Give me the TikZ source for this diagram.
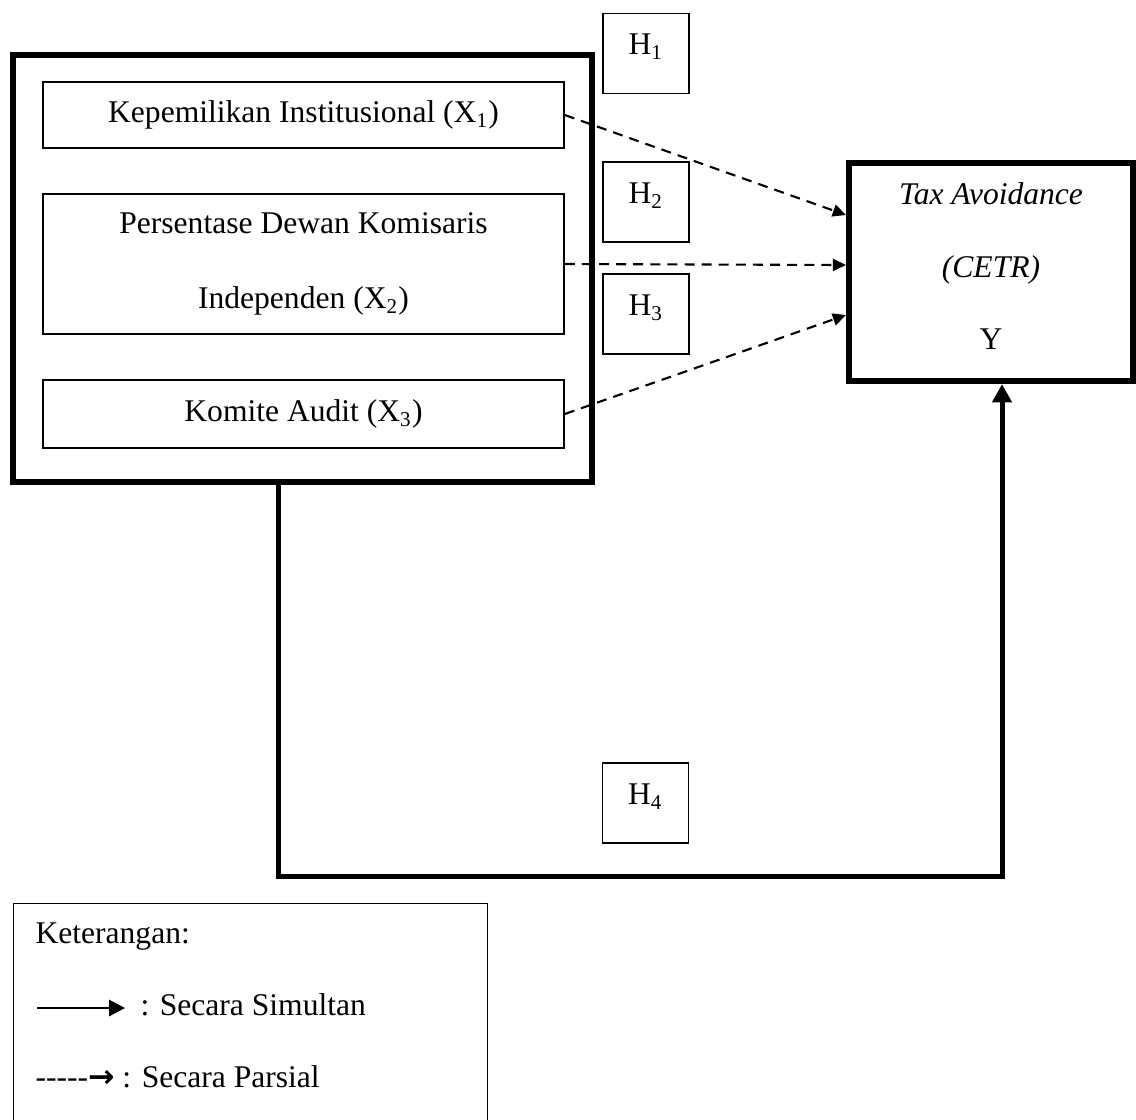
\documentclass[tikz,border=0pt]{standalone}
\usepackage{fontspec}
\setmainfont{Liberation Serif}
\newfontfamily\arrowfont{DejaVu Sans}
\usetikzlibrary{arrows.meta,positioning}
\newcommand{\pxu}{0.38pt}

\begin{document}
\begin{tikzpicture}[
    x=0.38pt, y=-0.38pt,
    every node/.style={font=\fontsize{12}{14.4}\selectfont, inner sep=0pt},
    group/.style={rectangle, draw, line width=2.3pt, minimum width=579*\pxu, minimum height=427*\pxu},
    varbox/.style={rectangle, draw, line width=0.6pt, minimum width=521*\pxu, align=center},
    hypbox/.style={rectangle, draw, line width=0.6pt, minimum width=86*\pxu, minimum height=80*\pxu, text height=9pt, text depth=8pt},
    depbox/.style={rectangle, draw, line width=2.3pt, minimum width=284*\pxu, minimum height=218*\pxu, align=center, text depth=4.5pt, font=\fontsize{12}{27.4}\selectfont},
    legbox/.style={rectangle, draw, line width=0.5pt, minimum width=474*\pxu, minimum height=240*\pxu},
    partial/.style={-{Triangle[length=5pt, width=4.6pt]}, line width=0.8pt, dash pattern=on 3.8pt off 2.7pt},
    simult/.style={-{Triangle[length=7pt, width=7.2pt]}, line width=1.9pt},
    legarrow/.style={-{Triangle[length=6pt, width=6.2pt]}, line width=0.5pt}
  ]
    \clip (0,0) rectangle (1136,1119);

    % independent variables
    \node[group] (grp) at (302.5,268.5) {};
    \node[varbox, minimum height=66*\pxu] (kep) at (303.5,115) {Kepemilikan Institusional (X\textsubscript{1})};
    \node[varbox, minimum height=140*\pxu, font=\fontsize{12}{28.5}\selectfont] (dkw) at (303.5,264) {Persentase Dewan Komisaris\\Independen (X\textsubscript{2})};
    \node[varbox, minimum height=68*\pxu] (kom) at (303.5,414) {Komite Audit (X\textsubscript{3})};

    % dependent variable
    \node[depbox] (tax) at (991,272) {\textit{Tax Avoidance}\\\textit{(CETR)}\\Y};

    % hypotheses
    \node[hypbox] (h1) at (646,53.5) {H\textsubscript{1}};
    \node[hypbox] (h2) at (646,202) {H\textsubscript{2}};
    \node[hypbox] (h3) at (646,314) {H\textsubscript{3}};
    \node[hypbox] (h4) at (645.5,803) {H\textsubscript{4}};

    \draw[partial] (kep.east) -- ([yshift=57*\pxu]tax.west);
    \draw[partial] (dkw.east) -- ([yshift=7*\pxu]tax.west);
    \draw[partial] (kom.east) -- ([yshift=-43*\pxu]tax.west);

    \coordinate (bend) at (640,876);
    \draw[simult] ([xshift=-24.5*\pxu]grp.south) |- (bend) -| ([xshift=11*\pxu]tax.south);

    % legend
    \node[legbox, anchor=north west] (leg) at (13,903) {};
    \node[anchor=base west] (ket) at (35,943) {Keterangan:};
    \coordinate (simL) at (37,1008);
    \coordinate (simR) at (125,1008);
    \draw[legarrow] (simL) -- (simR);
    \node[anchor=base west] (simtxt) at (140,1015) {: Secara Simultan};
    \node[anchor=base west] (partxt) at (35,1087) {-{}-{}-{}-{}-{\arrowfont\bfseries →} : Secara Parsial};
  \end{tikzpicture}
\end{document}
